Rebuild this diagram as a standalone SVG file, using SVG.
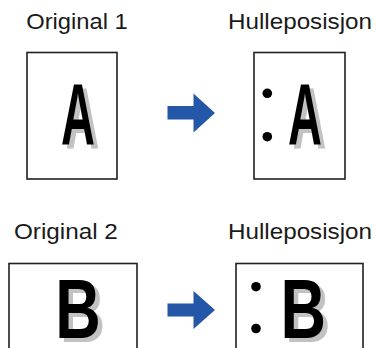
<svg xmlns="http://www.w3.org/2000/svg" width="376" height="348" viewBox="0 0 376 348">
<style>
.lbl{font-family:"Liberation Sans",Arial,sans-serif;font-size:22px;fill:#1a1a1a}
.page{fill:#fff;stroke:#231f20;stroke-width:1.6}
.big{font-family:"Liberation Sans",Arial,sans-serif;font-weight:bold;fill:#000;text-anchor:middle}
.shadow{fill:#c2c2c2}
.hole{fill:#000}
.arrow{fill:#2457a7}
</style>
<rect width="376" height="348" fill="#fff"/>
<g id="label-original-1"><text class="lbl" x="26.2" y="29" textLength="101.6" lengthAdjust="spacingAndGlyphs">Original 1</text></g>
<g id="label-hulleposisjon-1"><text class="lbl" x="228" y="29" textLength="144" lengthAdjust="spacingAndGlyphs">Hulleposisjon</text></g>
<g id="label-original-2"><text class="lbl" x="13.9" y="239" textLength="104" lengthAdjust="spacingAndGlyphs">Original 2</text></g>
<g id="label-hulleposisjon-2"><text class="lbl" x="228" y="239" textLength="144" lengthAdjust="spacingAndGlyphs">Hulleposisjon</text></g>

<g id="original-1">
<rect class="page" x="27" y="52.5" width="90" height="126.5"/>
<text class="big shadow" font-size="87" transform="translate(82.5,148) scale(0.54,1)">A</text>
<text class="big" font-size="87" transform="translate(78,144) scale(0.54,1)">A</text>
</g>
<g id="punched-1">
<rect class="page" x="254" y="52.5" width="91" height="126.5"/>
<circle class="hole" cx="267.3" cy="93.3" r="4.8"/>
<circle class="hole" cx="267.3" cy="136.7" r="4.8"/>
<text class="big shadow" font-size="87" transform="translate(309.5,148) scale(0.54,1)">A</text>
<text class="big" font-size="87" transform="translate(305,144) scale(0.54,1)">A</text>
</g>
<g id="original-2">
<rect class="page" x="9" y="263.5" width="128" height="100"/>
<text class="big shadow" font-size="84" transform="translate(82.5,342.3) scale(0.75,1)">B</text>
<text class="big" font-size="84" transform="translate(78,338.3) scale(0.75,1)">B</text>
</g>
<g id="punched-2">
<rect class="page" x="236" y="263.5" width="127" height="100"/>
<circle class="hole" cx="256" cy="286.7" r="4.8"/>
<circle class="hole" cx="256" cy="328.5" r="4.8"/>
<text class="big shadow" font-size="84" transform="translate(307.8,342.3) scale(0.75,1)">B</text>
<text class="big" font-size="84" transform="translate(303.3,338.3) scale(0.75,1)">B</text>
</g>
<g id="connectors">
<path class="arrow" d="M167.5,106 H193.5 V93.5 L215,113 L193.5,132.5 V119.5 H167.5 Z"/>
<path class="arrow" d="M167.5,303.5 H193.5 V291 L215,310 L193.5,329 V316.5 H167.5 Z"/>
</g>
</svg>
